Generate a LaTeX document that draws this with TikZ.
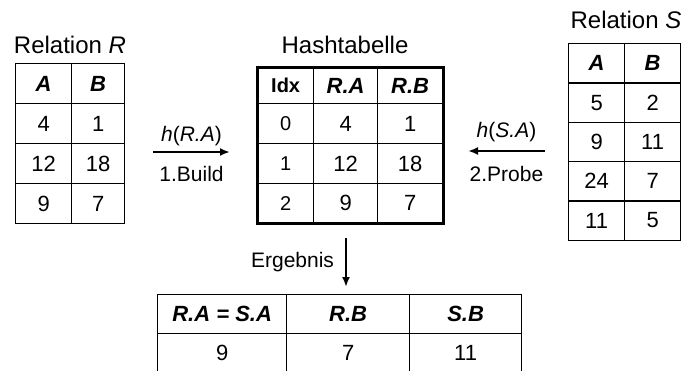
\documentclass[tikz,border=0pt]{standalone}
\usepackage{fontspec}
\setmainfont{Liberation Sans}
\usetikzlibrary{arrows.meta,matrix}
\newcommand{\hd}[1]{\textbf{\textit{#1}}}
\tikzset{
  tab/cell/.style={draw, line width=1.3pt, anchor=center, inner sep=0pt, outer sep=0pt, minimum width=55pt, minimum height=40pt, font=\fontsize{22}{26}\selectfont},
  tab/grid/.style={matrix of nodes, inner sep=0pt, outer sep=0pt, column sep=-1.3pt, row sep=-1.3pt, anchor=north west, nodes={tab/cell}},
  tab/hash/.style={tab/grid, draw, line width=3pt},
  tab/title/.style={font=\fontsize{24}{28}\selectfont, inner sep=0pt},
  lbl/.style={font=\fontsize{21}{25}\selectfont, inner sep=0pt},
  arr/.style={-{Latex[length=10pt,width=8pt]}, line width=2pt}
}

\begin{document}
\begin{tikzpicture}[x=1pt, y=-1pt]
\useasboundingbox (0,0) rectangle (681,370);

% relation R
\node[tab/title] (Rtitle) at (70,45) {Relation \textit{R}};
\matrix[tab/grid, column 1/.style={nodes={minimum width=56pt}},
  column 2/.style={nodes={minimum width=53pt}}] (R) at (15,63) {
  \hd{A} & \hd{B} \\
  4 & 1 \\
  12 & 18 \\
  9 & 7 \\
};

% hash table
\node[tab/title] (Htitle) at (345,45) {Hashtabelle};
\matrix[tab/hash,
  column 1/.style={nodes={minimum width=56pt, font=\fontsize{20}{24}\selectfont}},
  column 2/.style={nodes={minimum width=64pt}},
  column 3/.style={nodes={minimum width=65pt}},
  row 1/.style={nodes={minimum height=36pt}},
  row 4/.style={nodes={minimum height=39pt}}] (H) at (257,67) {
  \textbf{Idx} & \hd{R.A} & \hd{R.B} \\
  0 & 4 & 1 \\
  1 & 12 & 18 \\
  2 & 9 & 7 \\
};

% relation S
\node[tab/title] (Stitle) at (626,20) {Relation \textit{S}};
\matrix[tab/grid, nodes={minimum width=56pt, minimum height=39.3pt}] (S) at (568,43) {
  \hd{A} & \hd{B} \\
  5 & 2 \\
  9 & 11 \\
  24 & 7 \\
  11 & 5 \\
};

% join result
\matrix[tab/grid, nodes={minimum height=39pt},
  column 1/.style={nodes={minimum width=129pt}},
  column 2/.style={nodes={minimum width=123pt}},
  column 3/.style={nodes={minimum width=112pt}}] (E) at (157,294) {
  \hd{R.A = S.A} & \hd{R.B} & \hd{S.B} \\
  9 & 7 & 11 \\
};

% build / probe / result arrows
\coordinate (build0) at (153,152);
\coordinate (build1) at (230,152);
\draw[arr] (build0) -- (build1)
  node[midway, lbl, yshift=16pt] (hR) {\textit{h}(\textit{R.A})}
  node[midway, lbl, yshift=-22pt] (bld) {1.Build};

\coordinate (probe0) at (545,151);
\coordinate (probe1) at (468,151);
\draw[arr] (probe0) -- (probe1)
  node[midway, lbl, yshift=19pt] (hS) {\textit{h}(\textit{S.A})}
  node[midway, lbl, yshift=-23pt] (prb) {2.Probe};

\coordinate (res0) at (346,238);
\coordinate (res1) at (346,287);
\draw[arr] (res0) -- (res1)
  node[midway, lbl, left=11pt] (erg) {Ergebnis};
\end{tikzpicture}
\end{document}
